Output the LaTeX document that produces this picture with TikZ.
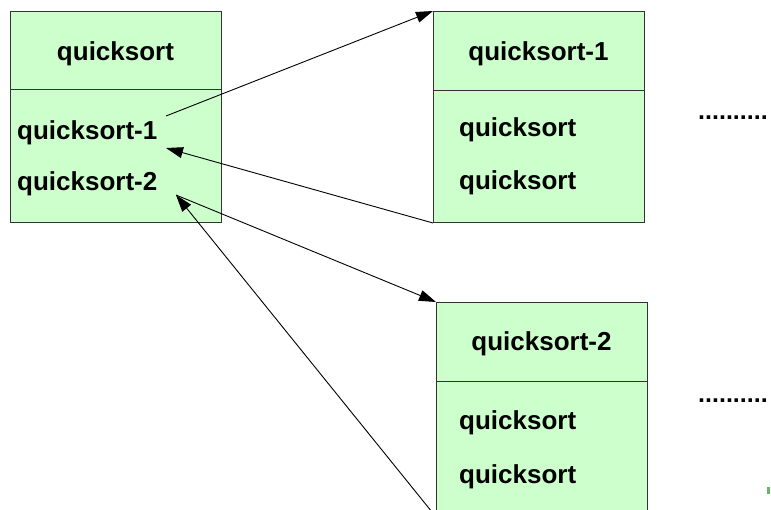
\documentclass[tikz,border=0pt]{standalone}
\usepackage{fontspec}
\setmainfont{Liberation Sans}
\usetikzlibrary{arrows.meta}
\definecolor{boxfill}{HTML}{CCFFCC}
\definecolor{boxline}{HTML}{333333}
\begin{document}
\begin{tikzpicture}[x=1pt,y=-1pt,
  part/.style={draw=boxline,line width=1pt,fill=boxfill,inner sep=0pt,minimum width=211pt,anchor=north west},
  lbl/.style={font=\fontsize{26}{31}\selectfont\bfseries,inner sep=0pt},
  conn/.style={line width=0.9pt,-{Triangle[length=17pt,width=11pt]}},
  dots/.style={font=\fontsize{25}{30}\selectfont\bfseries,inner sep=0pt,anchor=base west}]
\useasboundingbox (0,0) rectangle (771,509);
\clip (0,0) rectangle (771,509);
% box A
\node[part,minimum height=78pt] (Ah) at (10,11) {};
\node[part,minimum height=133pt] (Ab) at (10,89) {};
% box B
\node[part,minimum height=79pt] (Bh) at (433,11) {};
\node[part,minimum height=132pt] (Bb) at (433,90) {};
% box C
\node[part,minimum height=79pt] (Ch) at (436,302) {};
\node[part,minimum height=140pt] (Cb) at (436,381) {};
% texts
\node[lbl,anchor=base] (tA) at (115.5,60) {quicksort};
\node[lbl,anchor=base west] (tA1) at (17,139) {quicksort-1};
\node[lbl,anchor=base west] (tA2) at (17,190) {quicksort-2};
\node[lbl,anchor=base] (tB) at (538.5,60) {quicksort-1};
\node[lbl,anchor=base west] (tB1) at (459,136) {quicksort};
\node[lbl,anchor=base west] (tB2) at (459,189) {quicksort};
\node[lbl,anchor=base] (tC) at (541.5,350) {quicksort-2};
\node[lbl,anchor=base west] (tC1) at (459,429) {quicksort};
\node[lbl,anchor=base west] (tC2) at (459,483) {quicksort};
\node[dots] (d1) at (698,119) {..........};
\node[dots] (d2) at (698,402) {..........};
\fill[green!55!black!60!white] (767,487) rectangle (769.5,494);
% connectors
\coordinate (a1s) at (166,116);
\coordinate (a2e) at (166,148);
\coordinate (a3s) at (176,195);
\coordinate (a4s) at (432,512);
\draw[conn] (a1s) -- (Bh.north west);
\draw[conn] (Bb.south west) -- (a2e);
\draw[conn] (a3s) -- (Ch.north west);
\draw[conn] (a4s) -- (a3s);
\end{tikzpicture}
\end{document}
